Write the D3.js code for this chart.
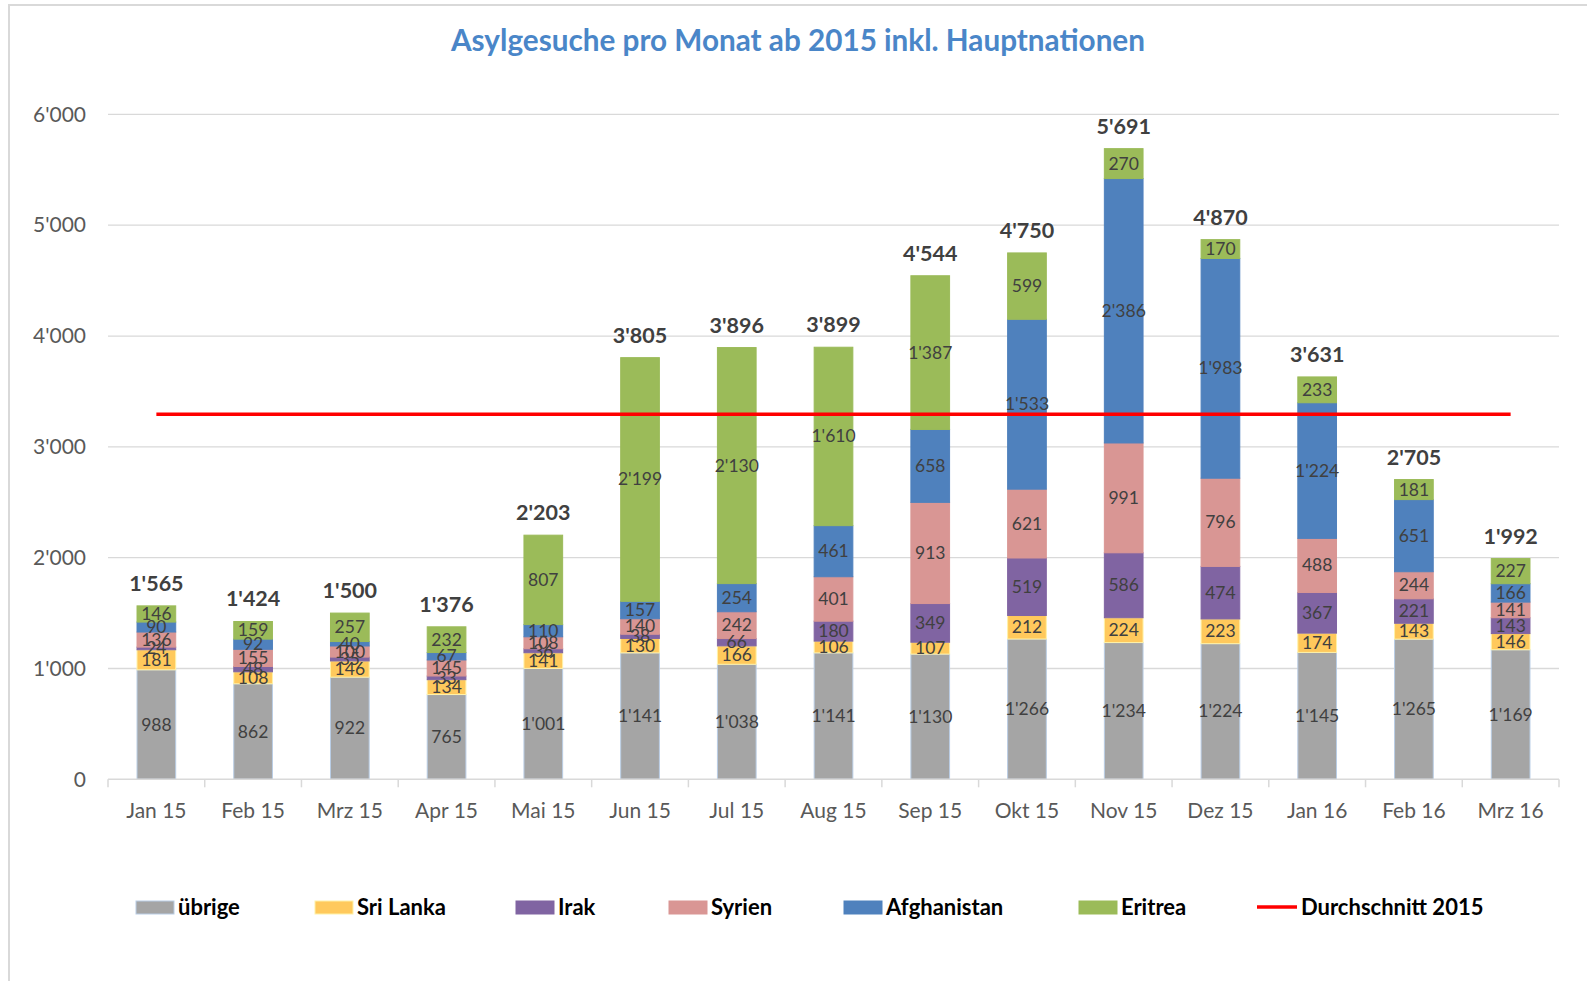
<!DOCTYPE html>
<html><head><meta charset="utf-8">
<script src="https://cdn.jsdelivr.net/npm/d3@7"></script>
<style>
html,body{margin:0;padding:0;background:#fff;}
svg{display:block;font-family:Lato, "Open Sans", sans-serif;}
</style></head>
<body><svg id="c" width="1587" height="981"></svg>
<script>
const months = ["Jan 15","Feb 15","Mrz 15","Apr 15","Mai 15","Jun 15","Jul 15","Aug 15","Sep 15","Okt 15","Nov 15","Dez 15","Jan 16","Feb 16","Mrz 16"];
const seriesNames = ["übrige","Sri Lanka","Irak","Syrien","Afghanistan","Eritrea"];
const uebrige    = [988,862,922,765,1001,1141,1038,1141,1130,1266,1234,1224,1145,1265,1169];
const sriLanka   = [181,108,146,134,141,130,166,106,107,212,224,223,174,143,146];
const irak       = [24,48,35,33,36,38,66,180,349,519,586,474,367,221,143];
const syrien     = [136,155,100,145,108,140,242,401,913,621,991,796,488,244,141];
const afghanistan= [90,92,40,67,110,157,254,461,658,1533,2386,1983,1224,651,166];
const eritrea    = [146,159,257,232,807,2199,2130,1610,1387,599,270,170,233,181,227];
const totals     = [1565,1424,1500,1376,2203,3805,3896,3899,4544,4750,5691,4870,3631,2705,1992];
const avg2015 = 3293.6;
const yTicks = [0,1000,2000,3000,4000,5000,6000];

const colors = ["#a5a5a5","#ffc95c","#8064a2","#d99694","#4f81bd","#9bbb59"];
const strokes = ["#b9cde5","#fff2a8","#8064a2","#d99694","#4f81bd","#9bbb59"];
const seriesVals = [uebrige,sriLanka,irak,syrien,afghanistan,eritrea];

const fmt = v => { const s = String(v); return s.length > 3 ? s.slice(0,-3) + "'" + s.slice(-3) : s; };

const svg = d3.select("#c");
svg.append("rect").attr("x",9).attr("y",5).attr("width",1700).attr("height",1100)
  .attr("fill","#fff").attr("stroke","#d9d9d9").attr("stroke-width",2);

const L = 108, R = 1559, T = 114.4, B = 779.3;
const x = d3.scaleBand().domain(months).range([L,R]).paddingInner(0.6).paddingOuter(0.3);
const xb = d3.scaleBand().domain(months).range([L,R]);
const y = d3.scaleLinear().domain([0,6000]).range([B,T]);

// title
svg.append("text").attr("x",798).attr("y",51).attr("text-anchor","middle")
  .attr("font-size",29.7).attr("font-weight","bold").attr("fill","#4a86c8")
  .text("Asylgesuche pro Monat ab 2015 inkl. Hauptnationen");

// grid
svg.append("g").selectAll("line").data(yTicks.filter(d=>d>0)).join("line")
  .attr("x1",L).attr("x2",R).attr("y1",d=>y(d)).attr("y2",d=>y(d))
  .attr("stroke","#d9d9d9").attr("stroke-width",1.3);

// y axis labels
const yAxis = d3.axisLeft(y).tickValues(yTicks).tickFormat(fmt).tickSize(0).tickPadding(0);
const gy = svg.append("g").attr("transform",`translate(${86},0)`).call(yAxis);
gy.select(".domain").remove();
gy.selectAll("text").attr("font-size",21).attr("fill","#595959").attr("font-family","Lato");

// stacked data
const table = months.map((m,i)=>{ const o={month:m}; seriesNames.forEach((s,k)=>o[s]=seriesVals[k][i]); return o; });
const stack = d3.stack().keys(seriesNames)(table);

const gBars = svg.append("g");
stack.forEach((layer,k)=>{
  gBars.append("g").selectAll("rect").data(layer).join("rect")
    .attr("x",d=>x(d.data.month)).attr("width",x.bandwidth())
    .attr("y",d=>y(d[1])).attr("height",d=>y(d[0])-y(d[1]))
    .attr("fill",colors[k]).attr("stroke",strokes[k]).attr("stroke-width",1);
});

// x axis
const gx = svg.append("g").attr("transform",`translate(0,${B})`);
gx.append("line").attr("x1",L).attr("x2",R).attr("stroke","#d9d9d9").attr("stroke-width",1.5);
gx.selectAll("line.tk").data(months.concat(["end"])).join("line").attr("class","tk")
  .attr("x1",(d,i)=> i<months.length ? xb(d) : R).attr("x2",(d,i)=> i<months.length ? xb(d) : R)
  .attr("y1",0).attr("y2",8).attr("stroke","#d9d9d9").attr("stroke-width",1.5);
gx.selectAll("text").data(months).join("text")
  .attr("x",d=>xb(d)+xb.bandwidth()/2).attr("y",39).attr("text-anchor","middle")
  .attr("font-size",21).attr("fill","#595959").text(d=>d);

// segment labels
const gLab = svg.append("g");
stack.forEach((layer,k)=>{
  gLab.append("g").selectAll("text").data(layer).join("text")
    .attr("x",d=>x(d.data.month)+x.bandwidth()/2)
    .attr("y",d=>y((d[0]+d[1])/2)+6)
    .attr("text-anchor","middle").attr("font-size",17.5).attr("fill","#404040")
    .text(d=>fmt(d.data[seriesNames[k]]));
});

// average line
svg.append("line")
  .attr("x1",xb(months[0])+xb.bandwidth()/2).attr("x2",xb(months[months.length-1])+xb.bandwidth()/2)
  .attr("y1",y(avg2015)).attr("y2",y(avg2015)).attr("stroke","#ff0000").attr("stroke-width",3.5);

// totals
svg.append("g").selectAll("text").data(months).join("text")
  .attr("x",d=>xb(d)+xb.bandwidth()/2).attr("y",(d,i)=>y(totals[i])-15)
  .attr("text-anchor","middle").attr("font-size",21.5).attr("font-weight","bold").attr("fill","#404040")
  .text((d,i)=>fmt(totals[i]));

// legend
const legX = [136,315,516,669,844,1079];
const legend = svg.append("g");
seriesNames.forEach((s,k)=>{
  legend.append("rect").attr("x",legX[k]).attr("y",901).attr("width",38).attr("height",13)
    .attr("fill",colors[k]).attr("stroke",strokes[k]).attr("stroke-width",1);
  legend.append("text").attr("x",legX[k]+42).attr("y",915).attr("font-size",22)
    .attr("font-weight","bold").attr("fill","#000").text(s);
});
legend.append("line").attr("x1",1257).attr("x2",1297).attr("y1",907).attr("y2",907)
  .attr("stroke","#ff0000").attr("stroke-width",3.5);
legend.append("text").attr("x",1301).attr("y",915).attr("font-size",22)
  .attr("font-weight","bold").attr("fill","#000").text("Durchschnitt 2015");
</script></body></html>
